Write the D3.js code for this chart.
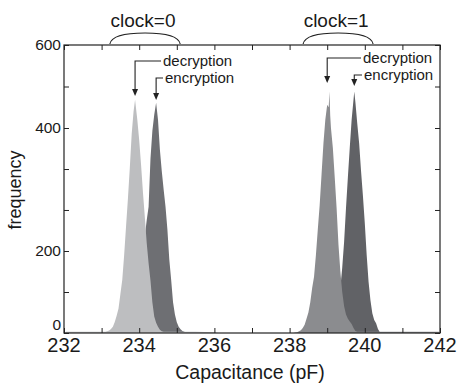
<!DOCTYPE html>
<html>
<head>
<meta charset="utf-8">
<script src="https://cdn.jsdelivr.net/npm/d3@7"></script>
<style>
    body { margin: 0; background: #fff; }
    text { font-family: "Liberation Sans", Arial, sans-serif; fill: #1a1a1a; }
</style>
</head>
<body>
<div id="chart"></div>
<script>
// histogram data (capacitance in pF, frequency counts)

const decClock0X = [232.02, 232.05, 232.5, 233.0, 233.05, 233.10, 233.15, 233.20, 233.25, 233.30, 233.35, 233.40,
    233.45, 233.50, 233.55, 233.60, 233.65, 233.70, 233.75, 233.80, 233.85, 233.89, 233.95, 234.00, 234.05,
    234.10, 234.15, 234.20, 234.25, 234.30, 234.35, 234.40, 234.45, 234.50, 234.55, 234.60, 234.65, 234.70,
    235.0, 235.5, 236.0, 236.1];
const decClock0Y = [0, 3, 3, 3, 3, 3, 4, 6, 10, 15, 27, 42,
    60, 95, 130, 190, 240, 285, 335, 390, 440, 468, 420, 380, 340,
    295, 255, 213, 170, 128, 75, 40, 25, 15, 8, 4, 3, 3,
    3, 3, 2, 0];

const encClock0X = [233.55, 233.60, 233.65, 233.70, 233.75, 233.80, 233.85, 233.90, 233.95, 234.00, 234.05,
    234.10, 234.15, 234.20, 234.25, 234.30, 234.35, 234.40, 234.45, 234.50, 234.55, 234.60, 234.65, 234.70,
    234.75, 234.80, 234.85, 234.90, 234.95, 235.00, 235.05, 235.10, 235.15, 235.20, 235.25, 235.30];
const encClock0Y = [1, 3, 5, 8, 12, 18, 28, 40, 58, 90, 125,
    175, 225, 250, 272, 350, 395, 432, 461, 420, 365, 330, 300, 272,
    235, 180, 130, 75, 45, 26, 15, 9, 5, 3, 1, 0];

const decClock1X = [238.10, 238.15, 238.20, 238.25, 238.30, 238.35, 238.40, 238.45, 238.50, 238.55, 238.60,
    238.65, 238.70, 238.75, 238.80, 238.85, 238.90, 238.95, 239.00, 239.04, 239.06, 239.08, 239.10, 239.15,
    239.20, 239.25, 239.30, 239.35, 239.40, 239.45, 239.50, 239.55, 239.60, 239.65, 239.70, 239.75, 239.80,
    240.5, 241.0, 241.5, 241.97, 241.99];
const decClock1Y = [0, 1, 2, 4, 7, 12, 20, 35, 50, 75, 110,
    137, 190, 235, 275, 325, 375, 420, 456, 450, 488, 430, 400, 368,
    320, 270, 210, 150, 100, 65, 45, 35, 28, 22, 12, 5, 3,
    3, 3, 3, 3, 0];

const encClock1X = [238.90, 238.95, 239.00, 239.05, 239.10, 239.15, 239.20, 239.25, 239.30, 239.35, 239.40,
    239.45, 239.50, 239.55, 239.60, 239.65, 239.72, 239.75, 239.80, 239.85, 239.90, 239.95, 240.00, 240.05,
    240.10, 240.15, 240.20, 240.25, 240.30, 240.35, 240.40, 240.45];
const encClock1Y = [0, 1, 2, 4, 8, 14, 25, 40, 65, 110, 160,
    215, 270, 320, 368, 420, 488, 462, 410, 375, 330, 290, 245, 190,
    125, 80, 48, 32, 24, 10, 2, 0];

// axis ticks
const xTicks = [232, 233, 234, 235, 236, 237, 238, 239, 240, 241, 242];
const xTickLabels = [232, 234, 236, 238, 240, 242];
const yTicks = [0, 100, 200, 266.7, 333.3, 400, 500, 600];
const yTickLabels = [0, 200, 400, 600];

// group labels and peak annotations
const clockLabels = ["clock=0", "clock=1"];
const clockSpans = [[233.22, 235.09], [238.36, 240.22]];
const peakNames = ["decryption", "encryption", "decryption", "encryption"];
const peakPositions = [233.89, 234.45, 239.0, 239.72];

const width = 457, height = 386;
const margin = { top: 45, right: 17, bottom: 53, left: 64 };
const plotW = width - margin.left - margin.right;
const plotH = height - margin.top - margin.bottom;

const svg = d3.select("#chart")
    .append("svg")
    .attr("width", width)
    .attr("height", height);

const g = svg.append("g")
    .attr("transform", `translate(${margin.left},${margin.top})`);

const x = d3.scaleLinear()
    .domain([232, 242])
    .range([0, plotW]);

// the printed y axis is not uniform: label positions taken from the figure
const y = d3.scaleLinear()
    .domain([0, 200, 400, 600])
    .range([plotH, plotH - 82, 83, 0]);

function drawHist(xs, ys, color)
{
    const pts = xs.map((v, i) => [v, ys[i]]);
    const area = d3.area()
        .x(d => x(d[0]))
        .y0(plotH)
        .y1(d => y(d[1]));
    g.append("path")
        .datum(pts)
        .attr("d", area)
        .attr("fill", color);
}

// dark (encryption) under, lighter (decryption) on top
drawHist(encClock0X, encClock0Y, "#6e6f73");
drawHist(decClock0X, decClock0Y, "#bdbec0");
drawHist(encClock1X, encClock1Y, "#616266");
drawHist(decClock1X, decClock1Y, "#8b8c8f");

// axes, ticks pointing inwards on all 4 sides
const tickLen = 5;
g.append("rect")
    .attr("x", 0).attr("y", 0)
    .attr("width", plotW).attr("height", plotH)
    .attr("fill", "none")
    .attr("stroke", "#222")
    .attr("stroke-width", 1.2);

g.append("g")
    .attr("transform", `translate(0,${plotH})`)
    .call(d3.axisBottom(x).tickValues(xTicks).tickSizeInner(-tickLen).tickSizeOuter(0).tickFormat(""))
    .call(a => a.select(".domain").remove());
g.append("g")
    .call(d3.axisTop(x).tickValues(xTicks).tickSizeInner(-tickLen).tickSizeOuter(0).tickFormat(""))
    .call(a => a.select(".domain").remove());
g.append("g")
    .call(d3.axisLeft(y).tickValues(yTicks).tickSizeInner(-tickLen).tickSizeOuter(0).tickFormat(""))
    .call(a => a.select(".domain").remove());
g.append("g")
    .attr("transform", `translate(${plotW},0)`)
    .call(d3.axisRight(y).tickValues(yTicks).tickSizeInner(-tickLen).tickSizeOuter(0).tickFormat(""))
    .call(a => a.select(".domain").remove());
g.selectAll(".tick line").attr("stroke", "#222");

// tick labels
g.selectAll(".xlab")
    .data(xTickLabels)
    .enter().append("text")
    .attr("class", "xlab")
    .attr("x", d => x(d))
    .attr("y", plotH + 19)
    .attr("text-anchor", "middle")
    .style("font-size", "20px")
    .text(d => d);

g.selectAll(".ylab")
    .data(yTickLabels)
    .enter().append("text")
    .attr("class", "ylab")
    .attr("x", -3)
    .attr("y", d => d === 0 ? y(d) - 3 : y(d) + 5)
    .attr("text-anchor", "end")
    .style("font-size", "15.5px")
    .text(d => d);

// axis titles
svg.append("text")
    .attr("x", margin.left + x(237) - 2)
    .attr("y", 379)
    .attr("text-anchor", "middle")
    .style("font-size", "19.5px")
    .text("Capacitance (pF)");

svg.append("text")
    .attr("transform", `translate(21,${margin.top + 145}) rotate(-90)`)
    .attr("text-anchor", "middle")
    .style("font-size", "18px")
    .text("frequency");

// clock labels with arch brackets
clockLabels.forEach((lab, i) => {
    const x0 = x(clockSpans[i][0]), x1 = x(clockSpans[i][1]);
    const mid = (x0 + x1) / 2;
    g.append("path")
        .attr("d", `M${x0},-1 Q${x0 + 2},-12 ${mid},-12 Q${x1 - 2},-12 ${x1},-1`)
        .attr("fill", "none")
        .attr("stroke", "#222")
        .attr("stroke-width", 1.2);
    g.append("text")
        .attr("x", mid - 2)
        .attr("y", -18)
        .attr("text-anchor", "middle")
        .style("font-size", "19px")
        .text(lab);
});

// arrows to each peak: [line y, arrow tip y, text start x] in plot coords
const arrowLayout = [
    [16, 51, 99],
    [33, 55, 101],
    [13, 38, 299],
    [30, 41, 300]
];

peakNames.forEach((name, i) => {
    const px = x(peakPositions[i]);
    const [ly, tip, tx] = arrowLayout[i];
    g.append("path")
        .attr("d", `M${tx - 2},${ly} H${px} V${tip - 6}`)
        .attr("fill", "none")
        .attr("stroke", "#222")
        .attr("stroke-width", 1.1);
    g.append("path")
        .attr("d", `M${px - 3},${tip - 7} L${px + 3},${tip - 7} L${px},${tip} Z`)
        .attr("fill", "#222");
    g.append("text")
        .attr("x", tx)
        .attr("y", ly + 5)
        .style("font-size", "15px")
        .text(name);
});
</script>
</body>
</html>
